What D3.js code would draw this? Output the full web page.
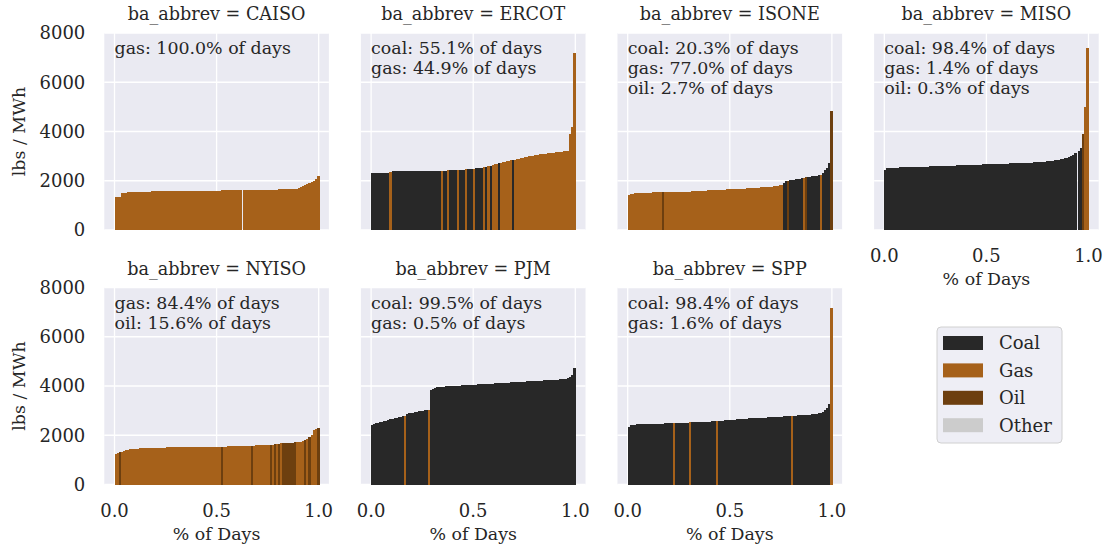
<!DOCTYPE html>
<html>
<head>
<meta charset="utf-8">
<script src="https://cdn.jsdelivr.net/npm/d3@7"></script>
<style>
  body { margin: 0; background: #fff; }
  text { font-family: "DejaVu Serif", serif; fill: #262626; }
</style>
</head>
<body>
<div class="diagram"></div>
<script>
// balancing authorities, in facet order
const baNames = ["CAISO", "ERCOT", "ISONE", "MISO", "NYISO", "PJM", "SPP"];

// fuel legend
const fuelKeys = ["c", "g", "o", "x"];
const fuelNames = ["Coal", "Gas", "Oil", "Other"];
const fuelColors = ["#282828", "#a6611a", "#6d3f0f", "#cccccc"];

const xTicks = [0, 0.5, 1];
const yTicks = [0, 2000, 4000, 6000, 8000];

// sorted daily emission rate (lbs / MWh), 100 steps from 0 to 1
const caisoRate = [
  1320,1330,1350,1510,1515,1520,1525,1530,1535,1540,
  1545,1548,1552,1555,1557,1559,1561,1563,1565,1566,
  1567,1568,1569,1570,1571,1572,1573,1574,1575,1576,
  1577,1578,1579,1580,1581,1582,1583,1584,1590,1592,
  1593,1594,1595,1596,1597,1598,1599,1600,1601,1602,
  1603,1604,1605,1606,1607,1608,1609,1610,1611,1612,
  1613,1614,null,1620,1621,1622,1623,1624,1625,1626,
  1627,1628,1629,1630,1631,1632,1633,1634,1635,1640,
  1645,1646,1647,1648,1649,1650,1651,1652,1653,1655,
  1690,1730,1770,1810,1850,1890,1940,2000,2090,2200];
const ercotRate = [
  2300,2302,2304,2306,2308,2310,2312,2314,2316,2345,
  2380,2382,2384,2385,2386,2387,2388,2389,2390,2391,
  2392,2393,2394,2395,2396,2397,2398,2399,2400,2402,
  2404,2406,2408,2410,2412,2414,2416,2418,2420,2425,
  2430,2435,2440,2445,2450,2455,2462,2468,2475,2482,
  2490,2500,2510,2520,2530,2545,2560,2580,2600,2656,
  2680,2700,2710,2730,2750,2770,2790,2810,2830,2846,
  2860,2880,2900,2920,2940,2960,2975,2990,3005,3020,
  3040,3060,3075,3085,3095,3105,3115,3125,3135,3145,
  3155,3165,3175,3185,3195,3210,3225,3900,4200,7200];
const isoneRate = [
  1430,1470,1478,1485,1490,1495,1500,1505,1510,1514,
  1518,1521,1524,1527,1530,1532,1534,1537,1539,1541,
  1543,1545,1547,1549,1551,1553,1555,1557,1559,1561,
  1563,1566,1570,1575,1580,1585,1590,1595,1600,1605,
  1608,1612,1616,1620,1625,1630,1635,1640,1645,1650,
  1654,1658,1662,1666,1670,1674,1678,1683,1688,1694,
  1700,1706,1712,1718,1724,1730,1736,1742,1748,1754,
  1760,1770,1780,1795,1815,1835,1905,1986,2010,2030,
  2040,2050,2060,2075,2085,2100,2120,2136,2150,2165,
  2177,2190,2210,2230,2245,2313,2450,2517,2721,4830];
const misoRate = [
  2450,2500,2510,2518,2524,2530,2535,2540,2544,2548,
  2552,2555,2558,2561,2563,2565,2567,2569,2571,2573,
  2575,2578,2581,2584,2587,2590,2593,2596,2599,2602,
  2605,2608,2611,2614,2617,2620,2623,2626,2629,2632,
  2635,2638,2641,2644,2647,2650,2653,2656,2660,2665,
  2670,2673,2676,2679,2682,2685,2688,2691,2694,2697,
  2700,2703,2706,2709,2712,2715,2718,2721,2724,2727,
  2730,2734,2738,2742,2746,2750,2760,2770,2780,2790,
  2800,2810,2820,2830,2845,2860,2880,2900,2920,2940,
  2970,3000,3050,3110,null,3200,3320,3900,5000,7400];
const nyisoRate = [
  1240,1260,1300,1330,1380,1400,1415,1428,1440,1448,
  1454,1460,1465,1470,1474,1478,1482,1486,1490,1494,
  1497,1499,1500,1501,1502,1503,1504,1505,1506,1507,
  1508,1509,1510,1511,1512,1513,1514,1515,1516,1517,
  1518,1519,1520,1521,1522,1523,1525,1527,1529,1531,
  1533,1535,1538,1540,1542,1544,1546,1548,1550,1552,
  1555,1558,1561,1564,1567,1570,1573,1576,1580,1584,
  1588,1592,1596,1600,1605,1610,1615,1620,1630,1640,
  1655,1670,1690,1700,1702,1703,1704,1705,1706,1708,
  1715,1740,1770,1810,1850,1920,2000,2230,2260,2284];
const pjmRate = [
  2400,2460,2490,2510,2530,2545,2560,2590,2620,2650,
  2670,2690,2710,2730,2750,2770,2790,2870,2890,2905,
  2920,2935,2950,2965,2980,2995,3010,3025,3040,3850,
  3890,3920,3940,3955,3965,3975,3982,3988,3994,4000,
  4005,4010,4015,4020,4025,4030,4035,4040,4045,4050,
  4055,4060,4065,4070,4075,4080,4085,4090,4095,4100,
  4105,4110,4115,4120,4125,4130,4135,4140,4145,4150,
  4155,4160,4165,4170,4175,4180,4185,4190,4195,4200,
  4205,4210,4215,4220,4225,4230,4235,4240,4245,4250,
  4255,4260,4265,4270,4280,4290,4310,4350,4450,4750];
const sppRate = [
  2350,2420,2430,2435,2440,2445,2448,2452,2455,2458,
  2462,2464,2466,2468,2470,2472,2474,2476,2478,2480,
  2482,2485,2490,2495,2500,2503,2506,2509,2512,2515,
  2518,2521,2524,2527,2530,2533,2536,2540,2545,2550,
  2555,2560,2565,2571,2578,2585,2592,2600,2607,2614,
  2621,2628,2635,2642,2649,2656,2663,2670,2677,2684,
  2690,2695,2700,2704,2708,2712,2716,2720,2725,2730,
  2735,2740,2745,2750,2755,2760,2765,2770,2775,2780,
  2786,2792,2798,2804,2810,2816,2822,2828,2834,2840,
  2850,2860,2875,2890,2920,2960,3030,3100,3250,7150];

// fuel of each step (c coal, g gas, o oil)
const caisoFuel = "gggggggggg gggggggggg gggggggggg gggggggggg gggggggggg gggggggggg gggggggggg gggggggggg gggggggggg gggggggggg";
const ercotFuel = "cccccccccg cccccccccc cccccccccc ccccgccgcc ccgcccgccc gccccgcgcg ggcggggggc gggggggggg gggggggggg gggggggggg";
const isoneFuel = "gggggggggg gggggggogg gggggggggg gggggggggg gggggggggg gggggggggg gggggggggg ggggggccoc ccccccgocc ccccgcccco";
const misoFuel  = "cccccccccc cccccccccc cccccccccc cccccccccc cccccccccc cccccccccc cccccccccc cccccccccc cccccccccc cccccccogg";
const nyisoFuel = "ggoggggggg gggggggggg gggggggggg gggggggggg gggggggggg ggoggggggg gggggggogg ggggggogog ogooooooog gggogogggo";
const pjmFuel   = "cccccccccc ccccccgccc ccccccccgc cccccccccc cccccccccc cccccccccc cccccccccc cccccccccc cccccccccc cccccccccc";
const sppFuel   = "cccccccccc cccccccccc ccgccccccc gccccccccc cccgcccccc cccccccccc cccccccccc cccccccccc gccccccccc cccccccccg";

// share-of-days notes
const caisoNotes = ["gas: 100.0% of days"];
const ercotNotes = ["coal: 55.1% of days", "gas: 44.9% of days"];
const isoneNotes = ["coal: 20.3% of days", "gas: 77.0% of days", "oil: 2.7% of days"];
const misoNotes  = ["coal: 98.4% of days", "gas: 1.4% of days", "oil: 0.3% of days"];
const nyisoNotes = ["gas: 84.4% of days", "oil: 15.6% of days"];
const pjmNotes   = ["coal: 99.5% of days", "gas: 0.5% of days"];
const sppNotes   = ["coal: 98.4% of days", "gas: 1.6% of days"];

const rates = [caisoRate, ercotRate, isoneRate, misoRate, nyisoRate, pjmRate, sppRate];
const fuels = [caisoFuel, ercotFuel, isoneFuel, misoFuel, nyisoFuel, pjmFuel, sppFuel];
const notes = [caisoNotes, ercotNotes, isoneNotes, misoNotes, nyisoNotes, pjmNotes, sppNotes];

const width = 1113, height = 549;
const panelW = 224.6, panelH = 197;
const colX = [104.3, 360.9, 617.5, 874.1];
const rowY = [33, 287.5];

const color = d3.scaleOrdinal().domain(fuelKeys).range(fuelColors);

const svg = d3.select(".diagram")
  .append("svg")
    .attr("width", width)
    .attr("height", height);

baNames.forEach((ba, k) => {
  const col = k % 4, row = Math.floor(k / 4);
  const vals = rates[k];
  const fuel = fuels[k].replace(/ /g, "");
  const n = vals.length;
  const data = vals.map((v, i) => ({ i: i, v: v, f: fuel[i] }));

  const g = svg.append("g")
    .attr("transform", `translate(${colX[col]}, ${rowY[row]})`);

  const x = d3.scaleLinear().domain([-0.05, 1.05]).range([0, panelW]);
  const y = d3.scaleLinear().domain([0, 8000]).range([panelH, 0]);

  g.append("rect")
    .attr("width", panelW)
    .attr("height", panelH)
    .attr("fill", "#eaeaf2");

  // grid
  g.selectAll(".gy").data(yTicks).join("line")
    .attr("x1", 0).attr("x2", panelW)
    .attr("y1", d => y(d)).attr("y2", d => y(d))
    .attr("stroke", "#fff").attr("stroke-width", 1.3);
  g.selectAll(".gx").data(xTicks).join("line")
    .attr("y1", 0).attr("y2", panelH)
    .attr("x1", d => x(d)).attr("x2", d => x(d))
    .attr("stroke", "#fff").attr("stroke-width", 1.3);

  // bars
  const bw = x(1 / n) - x(0);
  g.selectAll(".bar").data(data.filter(d => d.v != null)).join("rect")
    .attr("x", d => x(d.i / n))
    .attr("y", d => y(d.v))
    .attr("width", bw + 1)
    .attr("height", d => y(0) - y(d.v))
    .attr("fill", d => color(d.f))
    .attr("shape-rendering", "crispEdges");

  // title
  g.append("text")
    .attr("x", panelW / 2)
    .attr("y", -13)
    .attr("text-anchor", "middle")
    .style("font-size", "17.6px")
    .text("ba_abbrev = " + ba);

  // notes
  g.selectAll(".note").data(notes[k]).join("text")
    .attr("x", x(0))
    .attr("y", (d, j) => 21 + j * 20)
    .style("font-size", "17.4px")
    .text(d => d);

  // y axis
  if (col === 0) {
    g.selectAll(".yt").data(yTicks).join("text")
      .attr("x", -19)
      .attr("y", d => y(d))
      .attr("dy", "0.36em")
      .attr("text-anchor", "end")
      .style("font-size", "18px")
      .text(d => d);
    g.append("text")
      .attr("transform", `translate(-79, ${panelH / 2}) rotate(-90)`)
      .attr("text-anchor", "middle")
      .style("font-size", "17.4px")
      .text("lbs / MWh");
  }

  // x axis on the lowest panel of each column
  if (row === 1 || col === 3) {
    g.selectAll(".xt").data(xTicks).join("text")
      .attr("x", d => x(d))
      .attr("y", panelH + 26)
      .attr("dy", "0.36em")
      .attr("text-anchor", "middle")
      .style("font-size", "18px")
      .text(d => d.toFixed(1));
    g.append("text")
      .attr("x", panelW / 2)
      .attr("y", panelH + 55)
      .attr("text-anchor", "middle")
      .style("font-size", "17.4px")
      .text("% of Days");
  }
});

// legend
const leg = svg.append("g").attr("transform", "translate(937, 327)");
leg.append("rect")
  .attr("width", 125).attr("height", 116)
  .attr("rx", 4)
  .attr("fill", "#eeeef5")
  .attr("stroke", "#d0d0d0");
const items = leg.selectAll(".item").data(fuelKeys).join("g")
  .attr("transform", (d, i) => `translate(6, ${16 + i * 27.4})`);
items.append("rect")
  .attr("y", -7).attr("width", 40).attr("height", 14)
  .attr("fill", d => color(d));
items.append("text")
  .attr("x", 56).attr("dy", "0.36em")
  .style("font-size", "18px")
  .text((d, i) => fuelNames[i]);
</script>
</body>
</html>
